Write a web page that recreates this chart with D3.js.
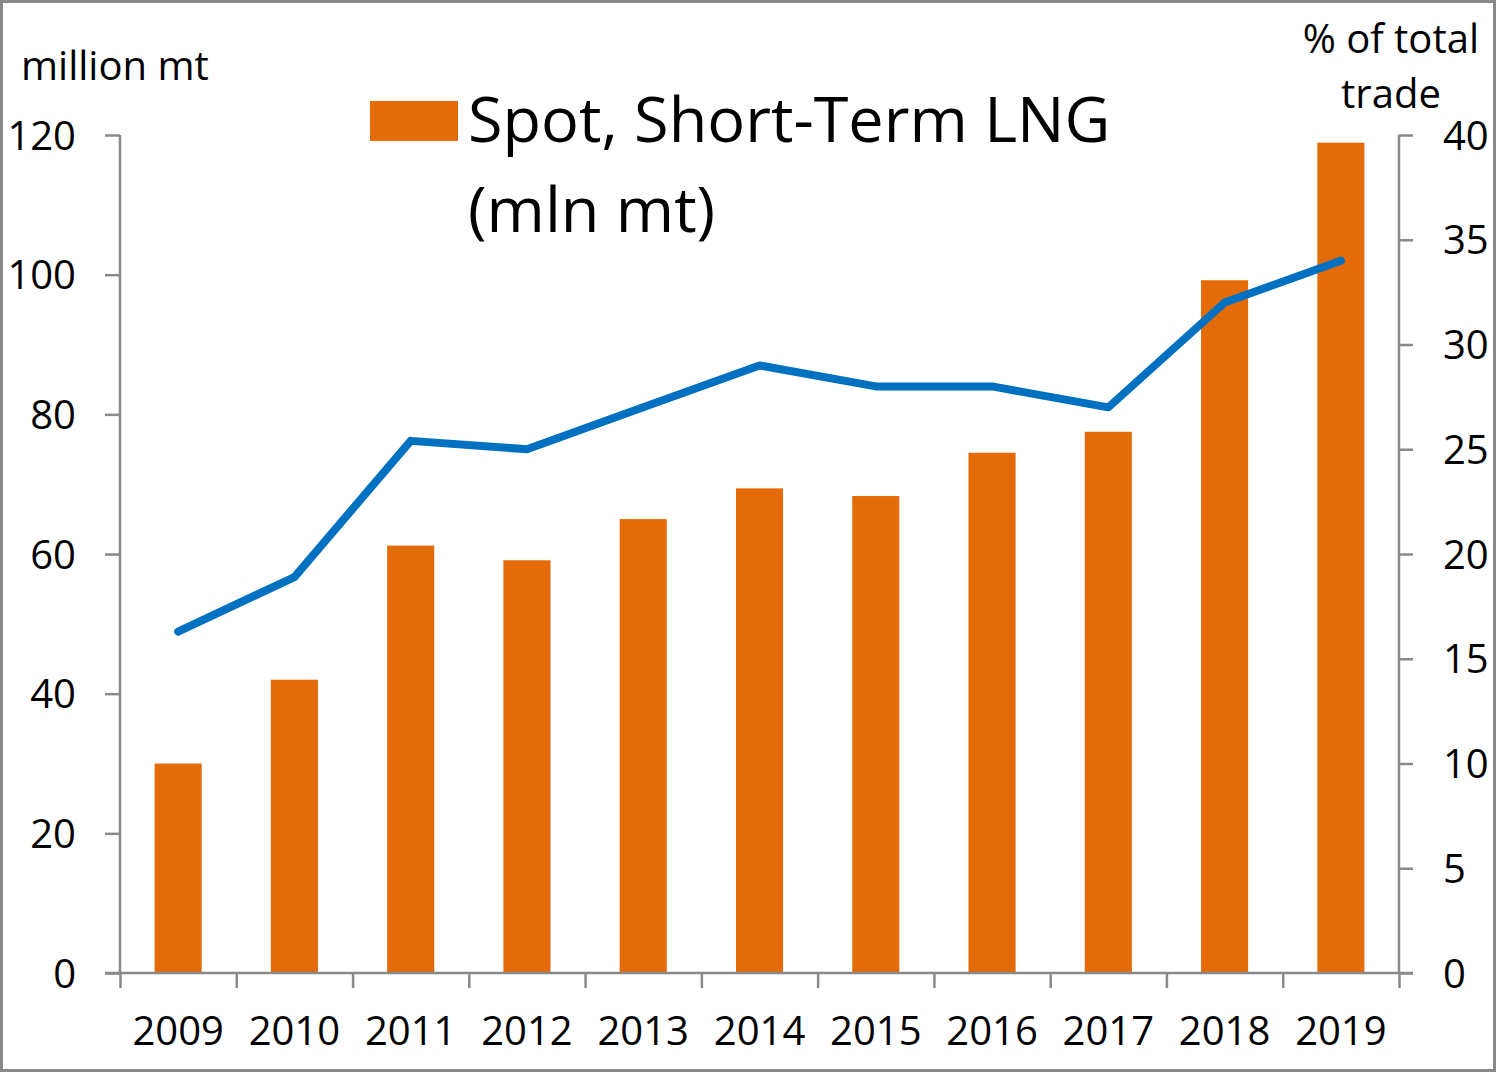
<!DOCTYPE html>
<html>
<head>
<meta charset="utf-8">
<script src="https://cdn.jsdelivr.net/npm/d3@7"></script>
<style>
  body { margin: 0; background: #fff; }
  text { font-family: "Open Sans", sans-serif; fill: #000; }
</style>
</head>
<body>
<svg id="chart" width="1497" height="1073"></svg>
<script>
// data
const years = ["2009", "2010", "2011", "2012", "2013", "2014", "2015", "2016", "2017", "2018", "2019"];
const spotVolume = [30, 42, 61.2, 59.1, 65, 69.4, 68.3, 74.5, 77.5, 99.2, 118.9]; // million mt
const shareOfTrade = [16.3, 18.9, 25.4, 25, 27, 29, 28, 28, 27, 32, 34]; // % of total trade
const leftTicks = [0, 20, 40, 60, 80, 100, 120];
const rightTicks = [0, 5, 10, 15, 20, 25, 30, 35, 40];

const width = 1497;
const height = 1073;
const plot = { left: 120, right: 1399, top: 135, bottom: 973 };
const axisColor = "#898989";
const barColor = "#E36C09";
const lineColor = "#0070C0";

const svg = d3.select("#chart");

// frame round the whole picture
svg.append("rect")
  .attr("x", 1.5).attr("y", 1.5)
  .attr("width", width - 4).attr("height", height - 4)
  .attr("fill", "none")
  .attr("stroke", axisColor)
  .attr("stroke-width", 3);

const xScale = d3.scaleBand()
  .domain(years)
  .range([plot.left, plot.right])
  .paddingInner(0.595)
  .paddingOuter(0.2975);

// boundaries between categories, for the tick marks
const xEdges = d3.scaleLinear().domain([0, years.length]).range([plot.left, plot.right]);

const yLeft = d3.scaleLinear().domain([0, 120]).range([plot.bottom, plot.top]);
const yRight = d3.scaleLinear().domain([0, 40]).range([plot.bottom, plot.top]);

// bars
svg.append("g")
  .selectAll("rect")
  .data(years)
  .join("rect")
  .attr("x", (d) => xScale(d))
  .attr("y", (d, i) => yLeft(spotVolume[i]))
  .attr("width", xScale.bandwidth())
  .attr("height", (d, i) => yLeft(0) - yLeft(spotVolume[i]))
  .attr("fill", barColor);

// axes
const styleAxis = (g) => {
  g.select(".domain").remove();
  g.selectAll(".tick line").attr("stroke", axisColor).attr("stroke-width", 2.5);
  g.selectAll(".tick text").style("font-size", "40px").style("font-family", "Open Sans, sans-serif").attr("fill", "#000");
};

svg.append("g")
  .attr("transform", `translate(${plot.left},0)`)
  .call(d3.axisLeft(yLeft).tickValues(leftTicks).tickSize(15).tickPadding(29))
  .call(styleAxis)
  .call((g) => g.selectAll(".tick text").attr("dy", "0.35em"));

svg.append("g")
  .attr("transform", `translate(${plot.right},0)`)
  .call(d3.axisRight(yRight).tickValues(rightTicks).tickSize(14).tickPadding(30))
  .call(styleAxis)
  .call((g) => g.selectAll(".tick text").attr("dy", "0.35em"));

svg.append("g")
  .attr("transform", `translate(0,${plot.bottom})`)
  .call(d3.axisBottom(xEdges).ticks(years.length).tickFormat("").tickSize(15))
  .call(styleAxis);

svg.append("g")
  .attr("transform", `translate(0,${plot.bottom})`)
  .call(d3.axisBottom(xScale).tickSize(0).tickPadding(44))
  .call(styleAxis)
  .call((g) => g.selectAll(".tick text").attr("dy", "0.71em"));

// axis lines
const axisLines = [
  [plot.left - 15, plot.bottom, plot.right + 14, plot.bottom],
  [plot.left, plot.top, plot.left, plot.bottom],
  [plot.right, plot.top, plot.right, plot.bottom],
];
svg.append("g")
  .selectAll("line")
  .data(axisLines)
  .join("line")
  .attr("x1", (d) => d[0]).attr("y1", (d) => d[1])
  .attr("x2", (d) => d[2]).attr("y2", (d) => d[3])
  .attr("stroke", axisColor)
  .attr("stroke-width", 2.5);

// share line on the right axis
const line = d3.line()
  .x((d, i) => xScale(years[i]) + xScale.bandwidth() / 2)
  .y((d) => yRight(d));

svg.append("path")
  .datum(shareOfTrade)
  .attr("d", line)
  .attr("fill", "none")
  .attr("stroke", lineColor)
  .attr("stroke-width", 8)
  .attr("stroke-linecap", "round")
  .attr("stroke-linejoin", "round");

// axis titles
svg.append("text")
  .attr("x", 21).attr("y", 80)
  .style("font-size", "40px")
  .text("million mt");

svg.append("text")
  .attr("x", 1479).attr("y", 53)
  .attr("text-anchor", "end")
  .style("font-size", "40px")
  .text("% of total");

svg.append("text")
  .attr("x", 1391).attr("y", 108)
  .attr("text-anchor", "middle")
  .style("font-size", "40px")
  .text("trade");

// legend
svg.append("rect")
  .attr("x", 370).attr("y", 101)
  .attr("width", 88).attr("height", 40)
  .attr("fill", barColor);

const legendText = svg.append("text")
  .attr("x", 468).attr("y", 142)
  .style("font-size", "63px");
legendText.append("tspan").attr("x", 468).text("Spot, Short-Term LNG");
legendText.append("tspan").attr("x", 468).attr("y", 232).text("(mln mt)");
</script>
</body>
</html>
